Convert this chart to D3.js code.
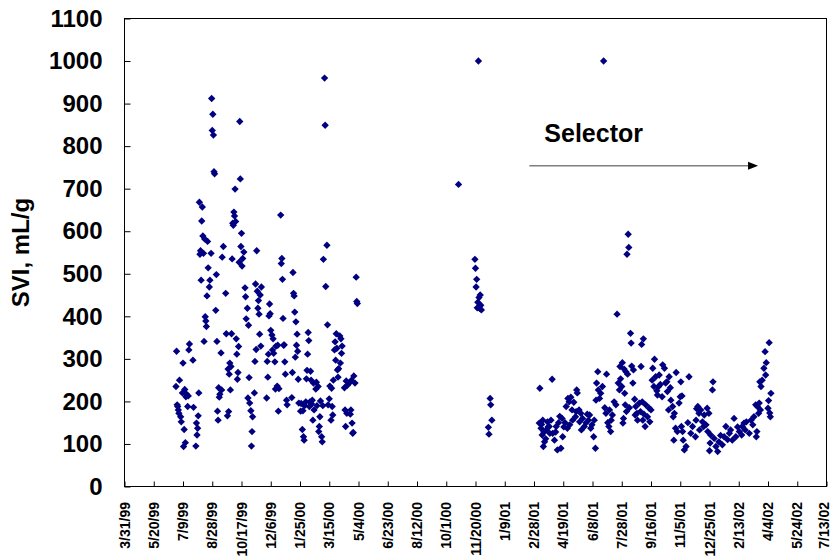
<!DOCTYPE html>
<html>
<head>
<meta charset="utf-8">
<script src="https://cdn.jsdelivr.net/npm/d3@7"></script>
<style>
  html, body { margin: 0; background: #fff; }
  svg { display: block; }
  text { font-family: Arial, "Liberation Sans", sans-serif; font-weight: bold; fill: #000; }
</style>
</head>
<body>
<script>
// Sludge volume index (SVI, mL/g), grouped by month as [day of month, SVI].
const svi1999Jun = [[27,235],[28,318],[29,192],[30,188]];
const svi1999Jul = [[1,180],[2,172],[3,250],[5,164],[6,152],[8,220],[9,290],[10,94],[11,134],[12,228],[13,103],[14,211],[15,217],[17,188],[18,213],[19,321],[20,335],[26,297],[27,186],[31,95]];
const svi1999Aug = [[1,149],[2,121],[3,137],[4,166],[5,220],[6,668],[7,546],[8,554],[9,485],[10,624],[11,657],[12,589],[13,548],[14,341],[15,582],[16,399],[17,389],[18,376],[19,448],[20,576],[21,514],[23,469],[24,485],[26,548],[27,912],[28,837],[29,875],[30,826],[31,740]];
const svi1999Sep = [[1,735],[3,414],[4,498],[5,341],[6,177],[7,156],[8,232],[9,210],[10,217],[12,314],[13,227],[14,539],[16,564],[20,454],[21,359],[23,166],[24,276],[25,176],[26,264],[27,290],[28,227],[29,282],[30,359]];
const svi1999Oct = [[1,535],[2,619],[3,614],[4,645],[5,636],[6,699],[7,623],[8,347],[9,311],[10,252],[11,268],[12,329],[13,527],[14,858],[15,723],[16,564],[17,595],[18,518],[19,536],[21,551],[23,467],[24,446],[25,394],[27,419],[28,208],[29,379],[30,256],[31,196]];
const svi1999Nov = [[2,178],[3,95],[4,129],[5,164],[8,220],[9,294],[10,476],[11,322],[12,554],[13,459],[14,419],[15,437],[16,405],[17,358],[18,450],[19,330],[20,469],[29,208],[30,294]];
const svi1999Dec = [[1,257],[2,311],[3,401],[4,429],[5,406],[6,367],[8,356],[9,321],[10,347],[11,313],[13,293],[14,229],[15,330],[17,236],[18,332],[19,177],[20,230],[23,638],[24,524],[25,536],[26,487],[27,395],[28,332],[29,333],[30,293],[31,264]];
const svi2000Jan = [[2,203],[3,192],[11,209],[12,268],[13,503],[14,454],[15,448],[16,410],[17,304],[18,387],[19,332],[20,358],[21,318],[22,252],[23,196],[26,177],[27,195],[29,134],[30,178],[31,117]];
const svi2000Feb = [[1,109],[2,190],[4,199],[5,253],[6,273],[7,311],[8,362],[9,343],[10,188],[11,199],[12,271],[13,250],[14,194],[15,203],[16,156],[17,243],[18,180],[21,229],[22,245],[23,190],[25,235],[26,129],[27,141],[28,164],[29,201]];
const svi2000Mar = [[2,117],[3,105],[4,190],[5,534],[7,960],[8,849],[9,470],[11,567],[12,380],[13,192],[15,206],[16,236],[18,156],[19,231],[20,188],[21,168],[22,250],[24,321],[25,340],[26,297],[27,359],[28,325],[29,274],[30,257],[31,277]];
const svi2000Apr = [[2,354],[3,290],[4,347],[5,313],[6,330],[10,232],[11,180],[12,141],[13,248],[14,172],[15,238],[19,244],[20,170],[21,180],[22,250],[23,149],[24,125],[25,127],[26,260],[28,243],[30,492]];
const svi2000May = [[1,435],[2,430]];
const svi2000Oct = [[22,710]];
const svi2000Nov = [[19,534],[20,513],[21,469],[22,487],[23,420],[24,433],[25,1000],[26,444],[27,419],[28,450],[29,426],[30,415]];
const svi2000Dec = [[12,139],[13,123],[15,207],[16,192],[18,156]];
const svi2001Mar = [[9,149],[10,231],[12,137],[13,146],[14,121],[15,156],[16,94],[17,128],[18,105],[20,112],[21,133],[23,152],[24,140],[26,141],[27,125],[29,156],[31,252]];
const svi2001Apr = [[1,125],[4,109],[6,128],[7,141],[9,86],[11,150],[13,165],[15,90],[17,160],[18,117],[20,140],[22,150],[24,188],[26,137],[27,207],[29,199],[30,145]];
const svi2001May = [[2,210],[4,180],[5,156],[7,198],[10,164],[11,176],[12,227],[13,220],[16,180],[17,152],[19,172],[20,133],[22,160],[25,141],[28,150],[30,170]];
const svi2001Jun = [[1,156],[3,168],[5,137],[7,145],[10,117],[11,156],[13,90],[14,203],[15,243],[17,270],[18,227],[20,207],[22,219],[25,235],[27,1000],[29,185]];
const svi2001Jul = [[1,172],[2,264],[4,150],[6,141],[7,180],[9,129],[10,156],[12,168],[15,199],[18,192],[20,405],[22,243],[24,227],[25,282],[26,253],[28,235],[29,291],[30,149],[31,160]];
const svi2001Aug = [[1,276],[2,219],[3,192],[4,270],[5,176],[6,546],[7,264],[8,593],[9,562],[10,185],[12,360],[13,337],[14,283],[16,243],[17,274],[19,205],[20,168],[21,188],[23,172],[24,156],[27,196],[29,176],[30,282],[31,334]];
const svi2001Sep = [[1,199],[2,156],[3,347],[4,170],[6,141],[7,192],[10,164],[13,184],[14,152],[16,180],[18,250],[19,278],[21,235],[22,299],[24,258],[26,225],[27,215],[29,235],[30,262]];
const svi2001Oct = [[2,240],[5,211],[6,286],[9,278],[11,243],[13,246],[14,223],[16,180],[17,258],[19,232],[20,203],[23,188],[24,164],[25,109],[26,172],[28,137],[29,268],[31,129]];
const svi2001Nov = [[3,196],[5,211],[6,246],[7,141],[8,213],[9,129],[10,109],[12,86],[15,94],[18,150],[20,258],[23,125],[26,141]];
const svi2001Dec = [[1,117],[2,156],[3,183],[5,188],[7,172],[8,133],[10,180],[13,152],[15,141],[16,168],[19,145],[21,184],[22,129],[24,172],[25,84],[26,102],[27,121],[30,227],[31,246]];
const svi2002Jan = [[2,113],[5,94],[8,82],[10,105],[13,120],[16,98],[19,117],[22,141],[25,110],[28,125],[30,133]];
const svi2002Feb = [[2,109],[5,160],[8,117],[11,140],[14,129],[18,121],[19,141],[22,149],[24,133],[26,152]];
const svi2002Mar = [[3,125],[6,156],[9,145],[11,164],[14,192],[15,117],[16,129],[17,188],[19,172],[20,196],[21,246],[22,180],[23,235],[25,250],[28,278],[30,317],[31,262]];
const svi2002Apr = [[1,291],[4,184],[5,202],[6,338],[7,173],[8,164],[9,219]];

// [year, month, samples]
const sviByMonth = [
  [1999, 6, svi1999Jun], [1999, 7, svi1999Jul], [1999, 8, svi1999Aug], [1999, 9, svi1999Sep],
  [1999, 10, svi1999Oct], [1999, 11, svi1999Nov], [1999, 12, svi1999Dec],
  [2000, 1, svi2000Jan], [2000, 2, svi2000Feb], [2000, 3, svi2000Mar], [2000, 4, svi2000Apr],
  [2000, 5, svi2000May], [2000, 10, svi2000Oct], [2000, 11, svi2000Nov], [2000, 12, svi2000Dec],
  [2001, 3, svi2001Mar], [2001, 4, svi2001Apr], [2001, 5, svi2001May], [2001, 6, svi2001Jun],
  [2001, 7, svi2001Jul], [2001, 8, svi2001Aug], [2001, 9, svi2001Sep], [2001, 10, svi2001Oct],
  [2001, 11, svi2001Nov], [2001, 12, svi2001Dec],
  [2002, 1, svi2002Jan], [2002, 2, svi2002Feb], [2002, 3, svi2002Mar], [2002, 4, svi2002Apr]
];

// Axis settings: date ticks every 50 days, SVI ticks every 100
const xStart = "1999-03-31";
const xTickCount = 25;
const xTickStepDays = 50;
const yTicks = [0, 100, 200, 300, 400, 500, 600, 700, 800, 900, 1000, 1100];
const yTitle = "SVI, mL/g";

// Selector period annotation
const selectorLabel = "Selector";
const selectorFrom = "2001-02-20";
const selectorTo = "2002-03-18";
const selectorLevel = 754;

const W = 833, H = 558;
const plot = { left: 124.5, right: 826.5, top: 18.5, bottom: 486.5 };

const parse = d3.utcParse("%Y-%m-%d");
const start = parse(xStart);
const xTickDates = d3.range(xTickCount).map(i => d3.utcDay.offset(start, i * xTickStepDays));

const data = sviByMonth.flatMap(([yr, mo, rows]) =>
  rows.map(([day, v]) => ({ date: new Date(Date.UTC(yr, mo - 1, day)), svi: v })));

const x = d3.scaleUtc()
  .domain([xTickDates[0], xTickDates[xTickDates.length - 1]])
  .range([plot.left, plot.right]);
const y = d3.scaleLinear()
  .domain([0, 1100])
  .range([plot.bottom, plot.top]);

const svg = d3.select("body").append("svg")
  .attr("width", W).attr("height", H)
  .attr("viewBox", `0 0 ${W} ${H}`);

// plot frame
svg.append("rect")
  .attr("x", plot.left).attr("y", plot.top)
  .attr("width", plot.right - plot.left).attr("height", plot.bottom - plot.top)
  .attr("fill", "none").attr("stroke", "#000").attr("stroke-width", 1);

// y axis: ticks point inward
const yAxis = svg.append("g")
  .attr("transform", `translate(${plot.left},0)`)
  .call(d3.axisLeft(y).tickValues(yTicks).tickSize(-6).tickSizeOuter(0).tickPadding(22).tickFormat(d3.format("d")));
yAxis.select(".domain").remove();
yAxis.selectAll(".tick line").attr("stroke", "#000");
yAxis.selectAll(".tick text")
  .style("font-size", "24px").style("font-family", "Arial, 'Liberation Sans', sans-serif")
  .style("font-weight", "bold").attr("fill", "#000");

// x axis: ticks point inward, labels rotated (kept inside the right page edge)
const fmt = d3.utcFormat("%-m/%-d/%y");
const xAxis = svg.append("g")
  .attr("transform", `translate(0,${plot.bottom})`)
  .call(d3.axisBottom(x).tickValues(xTickDates).tickSize(-5).tickSizeOuter(0).tickFormat(""));
xAxis.select(".domain").remove();
xAxis.selectAll(".tick line").attr("stroke", "#000");

svg.append("g").selectAll("text")
  .data(xTickDates)
  .join("text")
  .attr("transform", d => `translate(${Math.min(x(d), W - 9)},${plot.bottom + 15.5}) rotate(-90)`)
  .attr("text-anchor", "end")
  .attr("dy", "0.36em")
  .style("font-size", "14px")
  .text(fmt);

// y axis title
svg.append("text")
  .attr("transform", `translate(29,${(plot.top + plot.bottom) / 2}) rotate(-90)`)
  .attr("text-anchor", "middle")
  .style("font-size", "24px")
  .text(yTitle);

// SVI samples
const diamond = d3.symbol().type(d3.symbolSquare).size(27)();
svg.append("g").selectAll("path")
  .data(data)
  .join("path")
  .attr("d", diamond)
  .attr("transform", d => `translate(${x(d.date)},${y(d.svi)}) rotate(45)`)
  .attr("fill", "#000080");

// selector arrow
const ax0 = x(parse(selectorFrom)), ax1 = x(parse(selectorTo)), ay = y(selectorLevel);
svg.append("line")
  .attr("x1", ax0).attr("x2", ax1 - 8).attr("y1", ay).attr("y2", ay)
  .attr("stroke", "#808080").attr("stroke-width", 1.5);
svg.append("path")
  .attr("d", `M${ax1},${ay} L${ax1 - 10},${ay - 4} L${ax1 - 10},${ay + 4} Z`)
  .attr("fill", "#000");
svg.append("text")
  .attr("x", ax0 + 15).attr("y", ay - 24)
  .style("font-size", "25px")
  .text(selectorLabel);
</script>
</body>
</html>
